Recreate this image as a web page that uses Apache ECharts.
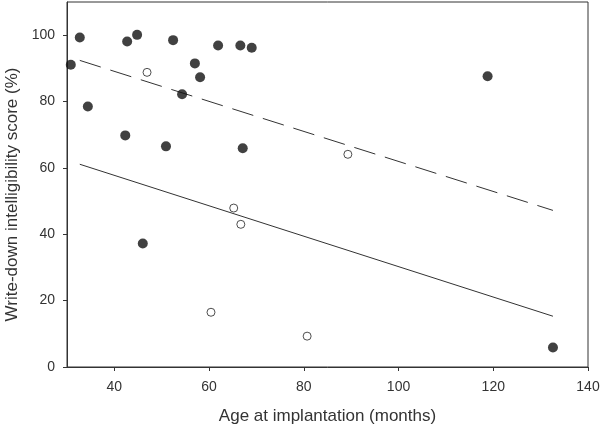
<!DOCTYPE html>
<html><head><meta charset="utf-8">
<script src="https://cdn.jsdelivr.net/npm/echarts@6/dist/echarts.min.js"></script>
<style>html,body{margin:0;padding:0;background:#fff}#c{width:601px;height:428px}</style>
</head><body><div id="c"></div>
<script>
const filledX = [30.8, 32.7, 34.4, 42.3, 42.7, 44.8, 46.0, 50.9, 52.4, 54.3, 57.0, 58.1, 61.9, 66.6, 67.1, 69.0, 118.8, 132.6];
const filledY = [91.1, 99.3, 78.5, 69.8, 98.1, 100.1, 37.2, 66.5, 98.5, 82.2, 91.5, 87.3, 96.9, 96.9, 65.9, 96.2, 87.6, 5.9];
const openX = [46.9, 89.3, 65.2, 66.7, 60.4, 80.7];
const openY = [88.8, 64.1, 47.9, 43.0, 16.5, 9.3];
const solidLineX = [32.7, 132.6];
const solidLineY = [61.1, 15.3];
const dashedLineX = [32.7, 132.6];
const dashedLineY = [92.4, 47.2];
const xTicks = [40, 60, 80, 100, 120, 140];
const yTicks = [0, 20, 40, 60, 80, 100];

const zip = (a, b) => a.map((v, i) => [v, b[i]]);
const font = 'Liberation Sans, Arial, sans-serif';
const chart = echarts.init(document.getElementById('c'));
chart.setOption({
  animation: false,
  backgroundColor: '#fff',
  grid: { left: 67, right: 13, top: 2, bottom: 61, show: true, borderColor: '#333', borderWidth: 1, outerBoundsMode: 'none', containLabel: false },
  xAxis: {
    type: 'value', min: 30, max: 140,
    name: 'Age at implantation (months)', nameLocation: 'middle', nameGap: 41,
    nameTextStyle: { fontFamily: font, fontSize: 17, color: '#333' },
    axisLine: { lineStyle: { color: '#333', width: 1 } },
    axisTick: { show: true, length: 4, lineStyle: { color: '#333' }, customValues: xTicks },
    axisLabel: { fontFamily: font, fontSize: 14, color: '#333', margin: 13, customValues: xTicks },
    splitLine: { show: false }
  },
  yAxis: {
    type: 'value', min: 0, max: 110,
    name: 'Write-down intelligibility score (%)', nameLocation: 'middle', nameGap: 46,
    nameTextStyle: { fontFamily: font, fontSize: 17, color: '#333', padding: [0, 20, 0, 0] },
    axisLine: { lineStyle: { color: '#333', width: 1 } },
    axisTick: { show: true, length: 4, lineStyle: { color: '#333' }, customValues: yTicks },
    axisLabel: { fontFamily: font, fontSize: 14, color: '#333', margin: 12, customValues: yTicks },
    splitLine: { show: false }
  },
  series: [
    { type: 'line', data: zip(solidLineX, solidLineY), symbol: 'none', lineStyle: { color: '#333', width: 1 }, z: 1 },
    { type: 'line', data: zip(dashedLineX, dashedLineY), symbol: 'none', lineStyle: { color: '#333', width: 1, type: [22, 10] }, z: 1 },
    { type: 'scatter', data: zip(filledX, filledY), symbol: 'circle', symbolSize: 10, itemStyle: { color: '#111' }, z: 3 },
    { type: 'scatter', data: zip(openX, openY), symbol: 'circle', symbolSize: 8, itemStyle: { color: '#fff', borderColor: '#222', borderWidth: 1 }, z: 3 }
  ]
});
</script></body></html>
